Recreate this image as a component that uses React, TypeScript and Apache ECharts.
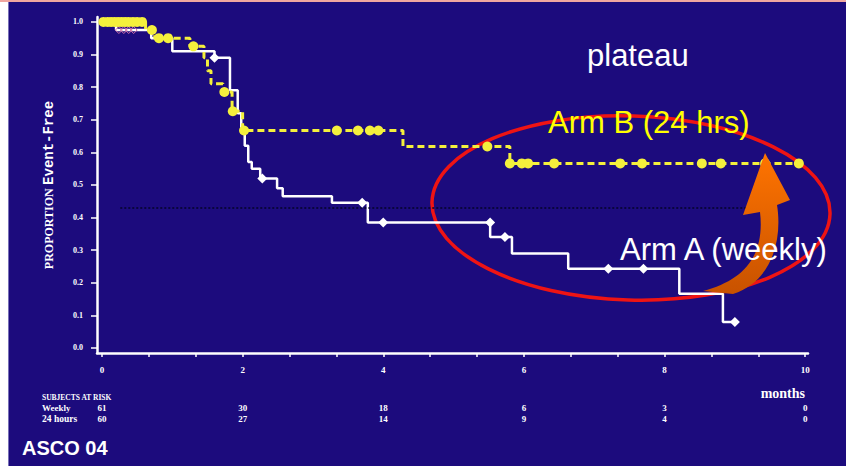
import React, { useEffect, useRef } from "react";
import * as echarts from "echarts";

// ---------- data ----------
const armATimes = [0, 0.2, 0.7, 1.0, 1.6, 1.82, 1.93, 1.98, 2.03, 2.08, 2.13, 2.25, 2.49, 2.57, 3.27, 3.78, 5.52, 5.83, 6.63, 8.21, 8.83, 9.0];
const armAValues = [1.0, 0.975, 0.95, 0.91, 0.89, 0.79, 0.72, 0.66, 0.62, 0.57, 0.55, 0.52, 0.49, 0.465, 0.445, 0.385, 0.34, 0.29, 0.243, 0.166, 0.08, 0.08];

const armACensorTimes = [1.6, 2.28, 3.7, 4.0, 5.52, 5.73, 7.2, 7.7, 9.0];
const armACensorValues = [0.89, 0.52, 0.445, 0.385, 0.385, 0.34, 0.243, 0.243, 0.08];

const armAEarlyCensorTimes = [0.24, 0.31, 0.38, 0.45];
const armAEarlyCensorValues = [0.975, 0.975, 0.975, 0.975];

const armBTimes = [0, 0.62, 0.75, 1.25, 1.45, 1.5, 1.55, 1.72, 1.85, 2.0, 4.28, 5.8, 9.91];
const armBValues = [1.0, 0.975, 0.95, 0.925, 0.89, 0.85, 0.81, 0.785, 0.726, 0.667, 0.618, 0.566, 0.566];

const armBCensorTimes = [0.02, 0.08, 0.13, 0.18, 0.23, 0.28, 0.33, 0.38, 0.44, 0.5, 0.57, 0.71, 0.81, 0.94, 1.3, 1.74, 1.86, 2.02, 3.34, 3.64, 3.81, 3.93, 5.48, 5.8, 5.97, 6.06, 6.43, 7.37, 7.68, 8.53, 8.8, 9.43, 9.91];
const armBCensorValues = [1, 1, 1, 1, 1, 1, 1, 1, 1, 1, 1, 0.975, 0.95, 0.95, 0.925, 0.785, 0.726, 0.667, 0.667, 0.667, 0.667, 0.667, 0.618, 0.566, 0.566, 0.566, 0.566, 0.566, 0.566, 0.566, 0.566, 0.566, 0.566];

const refLineValue = 0.431;
const refLineStart = 0.26;
const refLineEnd = 9.2;

const riskTimes = [0, 2, 4, 6, 8, 10];
const weeklyAtRisk = [61, 30, 18, 6, 3, 0];
const hours24AtRisk = [60, 27, 14, 9, 4, 0];

const xLabelValues = [0, 2, 4, 6, 8, 10];
const xTickValues = [0, 0.6667, 1.3333, 2, 2.6667, 3.3333, 4, 4.6667, 5.3333, 6, 6.6667, 7.3333, 8, 8.6667, 9.3333, 10];
const yTickValues = [0, 0.1, 0.2, 0.3, 0.4, 0.5, 0.6, 0.7, 0.8, 0.9, 1.0];

// ---------- shapes ----------
const arrowPath =
  "M765,153 L790,200 L777,205 C782,235 775,280 733,294 L703,291 C745,280 765,255 760,212 L743,215 Z";
echarts.graphic.registerShape("curvedArrow", echarts.graphic.extendPath(arrowPath, {}));

const zip = (a: number[], b: number[]) => a.map((v, i) => [v, b[i]]);

const WHITE = "#ffffff";
const YELLOW = "#f4f03c";
const NAVY = "#1c0b7d";
const SERIF = "Liberation Serif";

export default function App() {
  const ref = useRef<HTMLDivElement>(null);

  useEffect(() => {
    if (!ref.current) return;
    const chart = echarts.init(ref.current, null, { renderer: "svg" });
    const xMin = -0.071;
    const xMax = 10.04;

    const riskAxis = (offset: number, values: number[]) => ({
      type: "value",
      min: xMin,
      max: xMax,
      position: "bottom",
      offset,
      axisLine: { show: false },
      axisTick: { show: false },
      splitLine: { show: false },
      axisLabel: {
        customValues: riskTimes,
        formatter: (v: number) => {
          const i = riskTimes.indexOf(v);
          return i >= 0 ? String(values[i]) : "";
        },
        margin: 0,
        color: WHITE,
        fontFamily: SERIF,
        fontWeight: "bold",
        fontSize: 9,
      },
    });

    chart.setOption({
      animation: false,
      backgroundColor: NAVY,
      grid: { left: 97, right: 38, top: 17, bottom: 113 },
      xAxis: [
        {
          type: "value",
          min: xMin,
          max: xMax,
          position: "bottom",
          axisLine: { show: true, onZero: false, lineStyle: { color: WHITE, width: 2.5 } },
          axisTick: { show: true, customValues: xTickValues, length: 4, lineStyle: { color: WHITE, width: 1.5 } },
          axisLabel: {
            customValues: xLabelValues,
            formatter: (v: number) => String(Math.round(v)),
            color: WHITE,
            fontFamily: SERIF,
            fontWeight: "bold",
            fontSize: 9,
            margin: 12,
          },
          splitLine: { show: false },
        },
        riskAxis(50, weeklyAtRisk),
        riskAxis(61, hours24AtRisk),
      ],
      yAxis: {
        type: "value",
        min: -0.0154,
        max: 1.015,
        axisLine: { show: true, onZero: false, lineStyle: { color: WHITE, width: 2.5 } },
        axisTick: { show: true, customValues: yTickValues, length: 6, lineStyle: { color: WHITE, width: 1.5 } },
        axisLabel: {
          customValues: yTickValues,
          formatter: (v: number) => v.toFixed(1),
          color: WHITE,
          fontFamily: SERIF,
          fontWeight: "bold",
          fontSize: 8,
          margin: 14,
        },
        splitLine: { show: false },
        name: "{a|PROPORTION} {b|Event-Free}",
        nameLocation: "middle",
        nameGap: 41,
        nameTextStyle: {
          color: WHITE,
          rich: {
            a: { fontFamily: SERIF, fontWeight: "bold", fontSize: 12, color: WHITE },
            b: { fontFamily: "Liberation Mono", fontWeight: "bold", fontSize: 14, color: WHITE },
          },
        },
      },
      series: [
        {
          name: "Arm A (weekly)",
          type: "line",
          step: "end",
          data: zip(armATimes, armAValues),
          showSymbol: false,
          lineStyle: { color: WHITE, width: 2.5 },
          z: 2,
          markLine: {
            silent: true,
            symbol: ["none", "none"],
            label: { show: false },
            lineStyle: { color: "#05052a", type: [2, 2], width: 1.5 },
            data: [[{ coord: [refLineStart, refLineValue] }, { coord: [refLineEnd, refLineValue] }]],
          },
        },
        {
          name: "Arm B (24 hrs)",
          type: "line",
          step: "end",
          data: zip(armBTimes, armBValues),
          showSymbol: false,
          lineStyle: { color: YELLOW, width: 3, type: [7, 4] },
          z: 3,
        },
        {
          name: "Arm A early censored",
          type: "scatter",
          data: zip(armAEarlyCensorTimes, armAEarlyCensorValues),
          symbol: "diamond",
          symbolSize: 7,
          itemStyle: { color: "rgba(0,0,0,0)", borderColor: "#d070a8", borderWidth: 1, opacity: 1 },
          z: 3,
        },
        {
          name: "Arm B censored",
          type: "scatter",
          data: zip(armBCensorTimes, armBCensorValues),
          symbol: "circle",
          symbolSize: 10,
          itemStyle: { color: YELLOW, opacity: 1 },
          z: 4,
        },
        {
          name: "Arm A censored",
          type: "scatter",
          data: zip(armACensorTimes, armACensorValues),
          symbol: "diamond",
          symbolSize: 10,
          itemStyle: { color: WHITE, opacity: 1 },
          z: 5,
        },
      ],
      graphic: [
        { type: "rect", z: 100, shape: { x: 0, y: 0, width: 8, height: 466 }, style: { fill: "#ffffff" } },
        { type: "rect", z: 100, shape: { x: 8, y: 0, width: 1, height: 466 }, style: { fill: "#7870b8" } },
        { type: "rect", z: 101, shape: { x: 0, y: 0, width: 846, height: 2 }, style: { fill: "#f0a6a0" } },
        {
          type: "ellipse",
          z: 1,
          x: 631,
          y: 208,
          rotation: -0.03,
          shape: { cx: 0, cy: 0, rx: 199, ry: 92 },
          style: { fill: "none", stroke: "#ee1414", lineWidth: 3.5 },
        },
        {
          type: "curvedArrow",
          z: 20,
          x: 0,
          y: 0,
          style: {
            fill: new echarts.graphic.LinearGradient(0, 0, 0, 1, [
              { offset: 0, color: "#ff7400" },
              { offset: 1, color: "#c85200" },
            ]),
          },
        },
        {
          type: "text",
          z: 21,
          x: 587,
          y: 55,
          style: { text: "plateau", fill: WHITE, font: "31px 'Liberation Sans'", align: "left", verticalAlign: "middle" },
        },
        {
          type: "text",
          z: 21,
          x: 548,
          y: 122,
          style: { text: "Arm B (24 hrs)", fill: "#ffff00", font: "31px 'Liberation Sans'", align: "left", verticalAlign: "middle" },
        },
        {
          type: "text",
          z: 21,
          x: 620,
          y: 249,
          style: { text: "Arm A (weekly)", fill: WHITE, font: "31px 'Liberation Sans'", align: "left", verticalAlign: "middle" },
        },
        {
          type: "text",
          z: 21,
          x: 22,
          y: 448,
          style: { text: "ASCO 04", fill: WHITE, font: "bold 20px 'Liberation Sans'", align: "left", verticalAlign: "middle" },
        },
        {
          type: "text",
          z: 21,
          x: 805,
          y: 393,
          style: { text: "months", fill: WHITE, font: "bold 14px 'Liberation Serif'", align: "right", verticalAlign: "middle" },
        },
        {
          type: "text",
          z: 21,
          x: 42,
          y: 397.5,
          style: { text: "SUBJECTS AT RISK", fill: WHITE, font: "bold 7.5px 'Liberation Serif'", align: "left", verticalAlign: "middle" },
        },
        {
          type: "text",
          z: 21,
          x: 42,
          y: 408,
          style: { text: "Weekly", fill: WHITE, font: "bold 9px 'Liberation Serif'", align: "left", verticalAlign: "middle" },
        },
        {
          type: "text",
          z: 21,
          x: 42,
          y: 419,
          style: { text: "24 hours", fill: WHITE, font: "bold 9.5px 'Liberation Serif'", align: "left", verticalAlign: "middle" },
        },
      ],
    });
    return () => chart.dispose();
  }, []);

  return <div ref={ref} style={{ position: "fixed", left: 0, top: 0, width: 846, height: 466 }} />;
}
